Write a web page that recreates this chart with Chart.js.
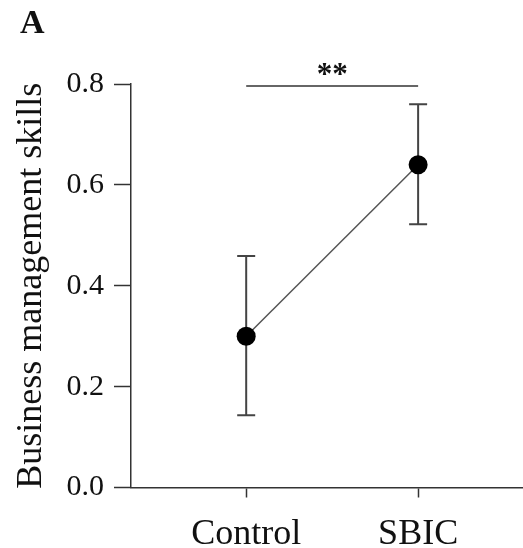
<!DOCTYPE html>
<html>
<head>
<meta charset="utf-8">
<title>Business management skills</title>
<script src="https://cdn.jsdelivr.net/npm/chart.js@4/dist/chart.umd.min.js"></script>
<style>
    body { margin: 0; background: #fff; }
    #wrap { width: 523px; height: 548px; }
</style>
</head>
<body>
<div id="wrap"><canvas id="chart" width="523" height="548"></canvas></div>
<script>
// Data
const categories = ['Control', 'SBIC'];
const means = [0.30, 0.64];
const errLow = [0.143, 0.522];
const errHigh = [0.459, 0.760];
const yTicks = [0.0, 0.2, 0.4, 0.6, 0.8];
const sigPair = [0, 1];
const sigLevel = 0.796;
const sigLabel = '**';
const panelLabel = 'A';

const FONT = '"Liberation Serif", "Times New Roman", serif';
const INK = '#333';

// Error bars + significance bracket
const annotations = {
    id: 'annotations',
    beforeDatasetsDraw(chart) {
        const ctx = chart.ctx;
        const x = chart.scales.x, y = chart.scales.y;
        ctx.save();
        ctx.strokeStyle = '#444';
        ctx.lineWidth = 2;
        categories.forEach((c, i) => {
            const px = x.getPixelForValue(i + 1);
            const top = y.getPixelForValue(errHigh[i]);
            const bot = y.getPixelForValue(errLow[i]);
            ctx.beginPath();
            ctx.moveTo(px, top); ctx.lineTo(px, bot);
            ctx.moveTo(px - 9, top); ctx.lineTo(px + 9, top);
            ctx.moveTo(px - 9, bot); ctx.lineTo(px + 9, bot);
            ctx.stroke();
        });
        ctx.restore();
    },
    afterDraw(chart) {
        const ctx = chart.ctx;
        const x = chart.scales.x, y = chart.scales.y;
        const x1 = x.getPixelForValue(sigPair[0] + 1);
        const x2 = x.getPixelForValue(sigPair[1] + 1);
        const py = y.getPixelForValue(sigLevel);
        ctx.save();
        ctx.strokeStyle = INK;
        ctx.lineWidth = 1.5;
        ctx.beginPath();
        ctx.moveTo(x1, py); ctx.lineTo(x2, py);
        ctx.stroke();
        ctx.fillStyle = '#111';
        ctx.font = 'bold 31px ' + FONT;
        ctx.textAlign = 'center';
        ctx.textBaseline = 'alphabetic';
        ctx.fillText(sigLabel, (x1 + x2) / 2, py - 2);
        ctx.font = 'bold 34px ' + FONT;
        ctx.textAlign = 'left';
        ctx.fillText(panelLabel, 20, 33);
        ctx.restore();
    }
};

new Chart(document.getElementById('chart'), {
    type: 'scatter',
    data: {
        datasets: [{
            data: means.map((v, i) => ({ x: i + 1, y: v })),
            showLine: true,
            borderColor: '#555',
            borderWidth: 1.5,
            pointRadius: 9.5,
            pointBackgroundColor: '#000',
            pointBorderColor: '#000',
            pointBorderWidth: 0,
            clip: false
        }]
    },
    options: {
        responsive: false,
        animation: false,
        layout: { autoPadding: false, padding: { top: 84, right: 0, left: 0, bottom: 0 } },
        plugins: { legend: { display: false }, tooltip: { enabled: false } },
        scales: {
            x: {
                type: 'linear',
                min: 0.33,
                max: 2.61,
                afterBuildTicks: s => { s.ticks = categories.map((c, i) => ({ value: i + 1 })); },
                afterFit: s => { s.height = 60.5; s.paddingLeft = 0; s.paddingRight = 0; },
                ticks: {
                    callback: v => categories[v - 1],
                    font: { family: FONT, size: 36 },
                    color: '#111',
                    padding: 15,
                    maxRotation: 0,
                    autoSkip: false
                },
                grid: { drawOnChartArea: false, tickLength: 10, tickColor: INK, tickWidth: 1.5 },
                border: { color: INK, width: 1.5 }
            },
            y: {
                min: 0,
                max: 0.8,
                afterBuildTicks: s => { s.ticks = yTicks.map(v => ({ value: v })); },
                afterFit: s => { s.width = 131; },
                ticks: {
                    callback: v => v.toFixed(1),
                    font: { family: FONT, size: 30 },
                    color: '#111',
                    padding: 10
                },
                title: {
                    display: true,
                    text: 'Business management skills',
                    font: { family: FONT, size: 36 },
                    color: '#111',
                    padding: { top: 10, bottom: 0 }
                },
                grid: { drawOnChartArea: false, tickLength: 17, tickColor: INK, tickWidth: 1.5 },
                border: { color: INK, width: 1.5 }
            }
        }
    },
    plugins: [annotations]
});
</script>
</body>
</html>
